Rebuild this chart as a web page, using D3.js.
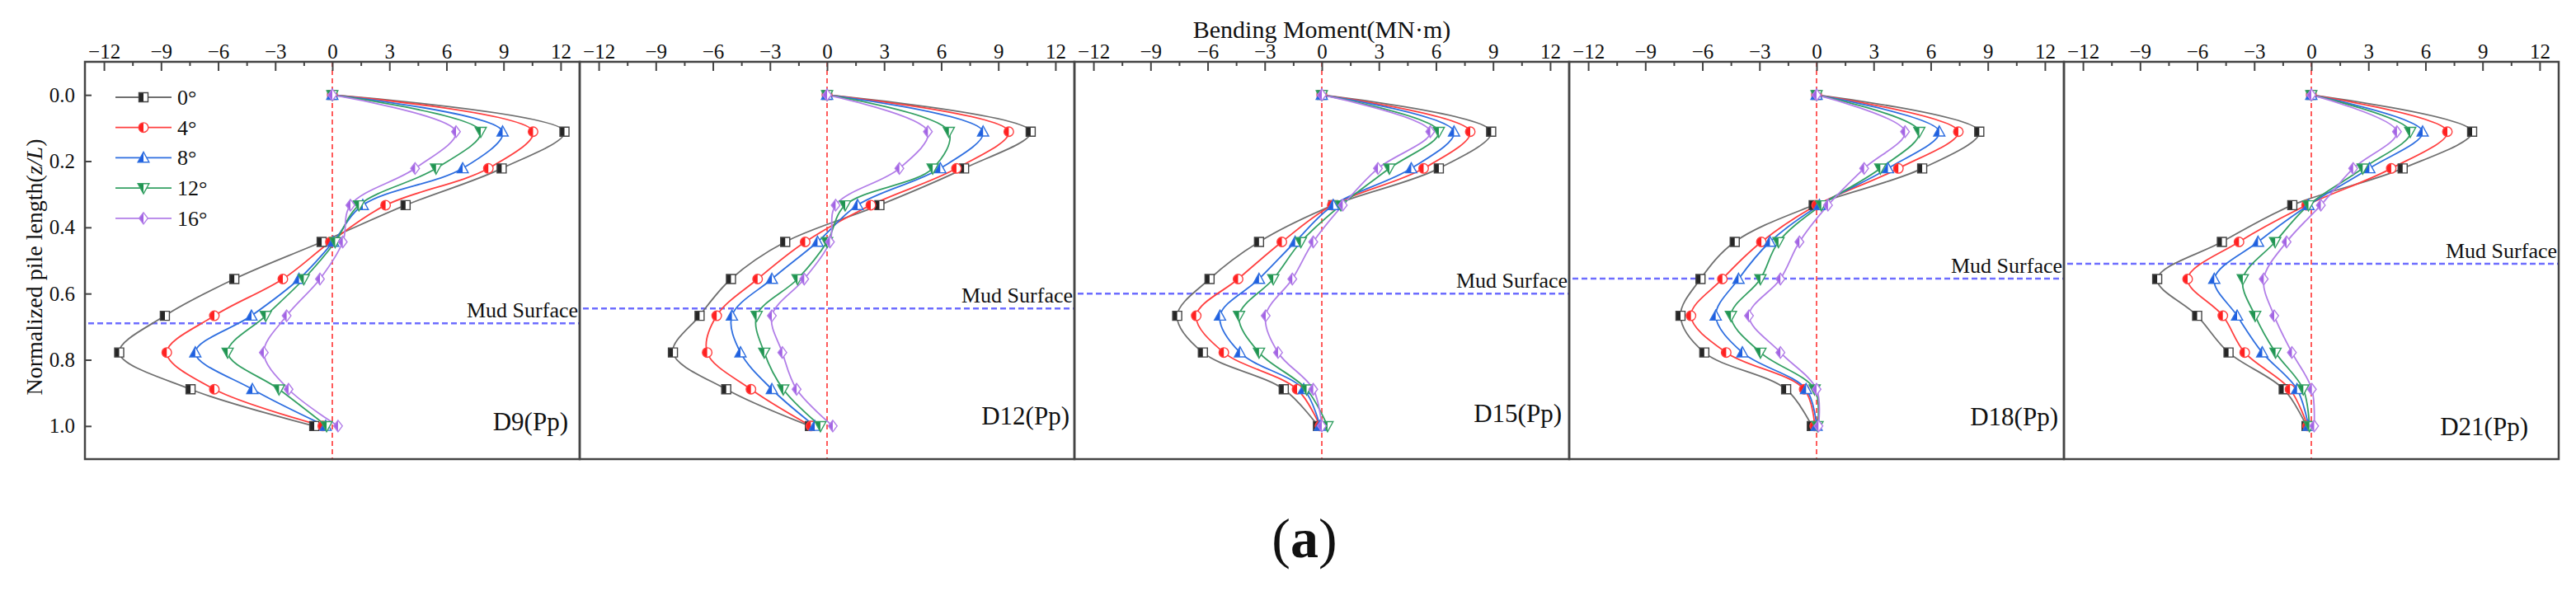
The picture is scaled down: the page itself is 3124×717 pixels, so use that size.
<!DOCTYPE html>
<html><head><meta charset="utf-8">
<script src="https://cdn.jsdelivr.net/npm/d3@7"></script>
<style>
body{margin:0;background:#fff}
svg{display:block}
text{font-family:"Liberation Serif","Times New Roman",serif;fill:#111}
</style>
</head><body>
<svg id="chart" width="3124" height="717"></svg>
<script>
// ---------------- data ----------------
const depths = [0, 0.111, 0.222, 0.333, 0.444, 0.556, 0.667, 0.778, 0.889, 1.0];
const angles = ["0°", "4°", "8°", "12°", "16°"];
const panelNames = ["D9(Pp)", "D12(Pp)", "D15(Pp)", "D18(Pp)", "D21(Pp)"];
const mudLevels = [0.69, 0.645, 0.60, 0.555, 0.51];
const xTicks = [-12, -9, -6, -3, 0, 3, 6, 9, 12];
const xMinorTicks = [-10.5, -7.5, -4.5, -1.5, 1.5, 4.5, 7.5, 10.5];
const yTicks = [0.0, 0.2, 0.4, 0.6, 0.8, 1.0];

// bending moment (MN·m) per angle series, listed along depths
const D9 = [
  [0, 12.2, 8.9, 3.85, -0.56, -5.15, -8.8, -11.2, -7.45, -0.95],
  [0, 10.55, 8.2, 2.8, -0.1, -2.6, -6.2, -8.7, -6.2, -0.5],
  [0, 8.95, 6.85, 1.6, 0.05, -1.75, -4.25, -7.2, -4.2, -0.35],
  [0, 7.8, 5.45, 1.4, 0.15, -1.5, -3.5, -5.5, -2.8, -0.3],
  [0, 6.5, 4.35, 0.95, 0.55, -0.65, -2.4, -3.6, -2.3, 0.3]
];
const D12 = [
  [0, 10.7, 7.2, 2.75, -2.2, -5.05, -6.7, -8.1, -5.3, -0.9],
  [0, 9.55, 6.8, 2.3, -1.15, -3.65, -5.8, -6.3, -4.0, -0.85],
  [0, 8.2, 5.95, 1.6, -0.5, -2.9, -5.0, -4.55, -2.9, -0.65],
  [0, 6.4, 5.55, 0.95, 0.0, -1.55, -3.7, -3.3, -2.3, -0.35],
  [0, 5.3, 3.8, 0.45, 0.15, -1.2, -2.9, -2.35, -1.6, 0.3]
];
const D15 = [
  [0, 8.9, 6.15, 0.6, -3.3, -5.9, -7.6, -6.25, -2.0, -0.2],
  [0, 7.8, 5.35, 0.55, -2.1, -4.4, -6.6, -5.15, -1.3, -0.1],
  [0, 6.95, 4.7, 0.6, -1.4, -3.3, -5.35, -4.3, -0.95, -0.1],
  [0, 6.15, 3.55, 1.0, -1.1, -2.55, -4.35, -3.3, -0.8, 0.3],
  [0, 5.7, 2.95, 1.1, -0.45, -1.55, -2.95, -2.3, -0.45, 0.0]
];
const D18 = [
  [0, 8.55, 5.55, -0.15, -4.3, -6.1, -7.15, -5.9, -1.6, -0.25],
  [0, 7.45, 4.3, 0.0, -2.9, -4.95, -6.6, -4.75, -0.65, -0.1],
  [0, 6.45, 3.75, 0.15, -2.45, -4.1, -5.3, -3.9, -0.55, 0.0],
  [0, 5.4, 3.35, 0.25, -2.0, -2.95, -4.5, -2.95, -0.1, 0.05],
  [0, 4.65, 2.5, 0.6, -0.9, -1.9, -3.55, -1.9, 0.0, 0.1]
];
const D21 = [
  [0, 8.45, 4.8, -1.0, -4.7, -8.1, -6.0, -4.35, -1.45, -0.25],
  [0, 7.15, 4.2, -0.25, -3.8, -6.5, -4.65, -3.5, -1.12, -0.2],
  [0, 5.85, 3.05, -0.15, -2.8, -5.1, -3.9, -2.58, -0.75, -0.15],
  [0, 5.2, 2.7, -0.15, -1.9, -3.6, -2.95, -1.88, -0.42, -0.1],
  [0, 4.5, 2.2, 0.5, -1.3, -2.5, -1.95, -1.02, 0.03, 0.15]
];
const panelData = [D9, D12, D15, D18, D21];

// ---------------- style / layout ----------------
const serif = '"Liberation Serif","Times New Roman",serif';
const lineColors = ["#707070", "#ff4040", "#2f6fe0", "#34a063", "#b27ee8"];
const markColors = ["#262626", "#ff2020", "#1f5fe0", "#1f9450", "#a263e4"];
const shapes = [
  "M-5.5,-5.5H5.5V5.5H-5.5Z",
  "M5.8,0A5.8,5.8 0 1,1 -5.8,0A5.8,5.8 0 1,1 5.8,0Z",
  "M0,-7L6.8,5.3L-6.8,5.3Z",
  "M0,7L6.8,-5.3L-6.8,-5.3Z",
  "M0,-7L5.3,0L0,7L-5.3,0Z"
];
const W = 3124, H = 717;
const left0 = 103, panelW = 600, plotTop = 75, plotBottom = 557;
const labelRightPad = [14, 6, 9, 7, 37];
const labelBaseline = [522, 515, 512, 516, 528];

const svg = d3.select("#chart");
svg.append("rect").attr("width", W).attr("height", H).attr("fill", "#fff");
const defs = svg.append("defs");
defs.append("clipPath").attr("id", "lefthalf")
  .append("rect").attr("x", -10).attr("y", -10).attr("width", 10).attr("height", 20);

const y = d3.scaleLinear().domain([-0.1, 1.1]).range([plotTop, plotBottom]);
const fmtX = d => d < 0 ? "\u2212" + Math.abs(d) : String(d);

function drawMarker(g, cx, cy, si) {
  const m = g.append("g").attr("transform", `translate(${cx},${cy})`);
  m.append("path").attr("d", shapes[si]).attr("fill", "#fff");
  m.append("path").attr("d", shapes[si]).attr("fill", markColors[si]).attr("clip-path", "url(#lefthalf)");
  m.append("path").attr("d", shapes[si]).attr("fill", "none")
    .attr("stroke", si === 0 ? "#444" : lineColors[si]).attr("stroke-width", 1.4);
}

panelData.forEach((series, p) => {
  const x0 = left0 + p * panelW, x1 = x0 + panelW;
  const x = d3.scaleLinear().domain([-13, 13]).range([x0, x1]);
  const g = svg.append("g");

  // mud surface line
  g.append("line").attr("x1", x0 + 4).attr("x2", x1 - 1)
    .attr("y1", y(mudLevels[p])).attr("y2", y(mudLevels[p]))
    .attr("stroke", "#6d6dff").attr("stroke-width", 2.5).attr("stroke-dasharray", "7,4");
  g.append("text").attr("x", x1 - 2).attr("y", y(mudLevels[p]) - 7)
    .attr("text-anchor", "end").attr("font-size", 26).style("font-family", serif).text("Mud Surface");

  // zero line
  g.append("line").attr("x1", x(0)).attr("x2", x(0)).attr("y1", plotTop).attr("y2", plotBottom)
    .attr("stroke", "#ff5c5c").attr("stroke-width", 2).attr("stroke-dasharray", "6,4");

  // curves
  const line = d3.line().x(d => x(d[0])).y(d => y(d[1])).curve(d3.curveCatmullRom.alpha(0.5));
  series.forEach((vals, si) => {
    g.append("path").datum(vals.map((v, i) => [v, depths[i]]))
      .attr("d", line).attr("fill", "none")
      .attr("stroke", lineColors[si]).attr("stroke-width", 1.8);
  });
  series.forEach((vals, si) => {
    vals.forEach((v, i) => drawMarker(g, x(v), y(depths[i]), si));
  });

  // panel label
  g.append("text").attr("x", x1 - labelRightPad[p]).attr("y", labelBaseline[p])
    .attr("text-anchor", "end").attr("font-size", 31).style("font-family", serif).text(panelNames[p]);

  // top axis
  const ax = svg.append("g").attr("transform", `translate(0,${plotTop})`)
    .call(d3.axisTop(x).tickValues(xTicks).tickSizeInner(-11).tickSizeOuter(0).tickPadding(4).tickFormat(fmtX));
  ax.select(".domain").remove();
  ax.attr("font-family", null);
  ax.selectAll("line").attr("stroke", "#444").attr("stroke-width", 2);
  ax.selectAll("text").attr("font-size", 25).style("font-family", serif).style("fill", "#111");
  const axm = svg.append("g").attr("transform", `translate(0,${plotTop})`)
    .call(d3.axisTop(x).tickValues(xMinorTicks).tickSizeInner(-5).tickSizeOuter(0).tickFormat(""));
  axm.select(".domain").remove();
  axm.selectAll("line").attr("stroke", "#444").attr("stroke-width", 2);

  // frame
  svg.append("rect").attr("x", x0).attr("y", plotTop).attr("width", panelW).attr("height", plotBottom - plotTop)
    .attr("fill", "none").attr("stroke", "#444").attr("stroke-width", 2.5);
});

// y axis on first panel
const ay = svg.append("g").attr("transform", `translate(${left0},0)`)
  .call(d3.axisLeft(y).tickValues(yTicks).tickSizeInner(-8).tickSizeOuter(0).tickPadding(12).tickFormat(d3.format(".1f")));
ay.select(".domain").remove();
ay.attr("font-family", null);
ay.selectAll("line").attr("stroke", "#444").attr("stroke-width", 2);
ay.selectAll("text").attr("font-size", 25).style("font-family", serif).style("fill", "#111");

// legend
const lg = svg.append("g");
angles.forEach((a, si) => {
  const ly = 118 + si * 36.7;
  lg.append("line").attr("x1", 140).attr("x2", 208).attr("y1", ly).attr("y2", ly)
    .attr("stroke", lineColors[si]).attr("stroke-width", 1.8);
  drawMarker(lg, 174, ly, si);
  lg.append("text").attr("x", 215).attr("y", ly + 9).attr("font-size", 26).style("font-family", serif).text(a);
});

// axis titles
svg.append("text").attr("x", 1603).attr("y", 46).attr("text-anchor", "middle")
  .attr("font-size", 30).style("font-family", serif).text("Bending Moment(MN\u00b7m)");
const yt = svg.append("text").attr("transform", "translate(51,324) rotate(-90)")
  .attr("text-anchor", "middle").attr("font-size", 28).style("font-family", serif);
yt.append("tspan").text("Normalized pile length(");
yt.append("tspan").attr("font-style", "italic").text("z/L");
yt.append("tspan").text(")");

// caption
const cap = svg.append("text").attr("x", 1582).attr("y", 676).attr("text-anchor", "middle")
  .attr("font-size", 68).style("font-family", serif);
cap.append("tspan").text("(");
cap.append("tspan").attr("font-weight", "bold").text("a");
cap.append("tspan").text(")");
</script>
</body></html>
